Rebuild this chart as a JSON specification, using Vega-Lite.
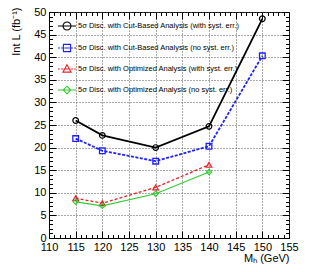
{
  "$schema": "https://vega.github.io/schema/vega-lite/v6.json",
  "autosize": {"type": "none"},
  "width": 240,
  "height": 226,
  "padding": {"left": 49, "top": 12, "right": 33, "bottom": 34},
  "background": "white",
  "config": {
    "view": {"stroke": "black", "strokeWidth": 1},
    "font": "Liberation Sans",
    "axis": {
      "labelFont": "Liberation Sans",
      "titleFont": "Liberation Sans",
      "labelColor": "black",
      "titleColor": "black",
      "domainColor": "black",
      "tickColor": "black",
      "titleFontWeight": "normal",
      "labelFontSize": 11,
      "titleFontSize": 11
    }
  },
  "data": {
    "values": [
      {"series": "A", "mh": 115, "lumi": 26.0},
      {"series": "A", "mh": 120, "lumi": 22.7},
      {"series": "A", "mh": 130, "lumi": 20.0},
      {"series": "A", "mh": 140, "lumi": 24.7},
      {"series": "A", "mh": 150, "lumi": 48.5},
      {"series": "B", "mh": 115, "lumi": 22.0},
      {"series": "B", "mh": 120, "lumi": 19.3},
      {"series": "B", "mh": 130, "lumi": 17.0},
      {"series": "B", "mh": 140, "lumi": 20.3},
      {"series": "B", "mh": 150, "lumi": 40.3},
      {"series": "C", "mh": 115, "lumi": 8.8},
      {"series": "C", "mh": 120, "lumi": 7.7},
      {"series": "C", "mh": 130, "lumi": 11.2},
      {"series": "C", "mh": 140, "lumi": 16.2},
      {"series": "D", "mh": 115, "lumi": 8.0},
      {"series": "D", "mh": 120, "lumi": 7.1},
      {"series": "D", "mh": 130, "lumi": 9.8},
      {"series": "D", "mh": 140, "lumi": 14.6}
    ]
  },
  "resolve": {"axis": {"x": "independent", "y": "independent"}},
  "layer": [
    {
      "transform": [{"filter": "datum.series === 'A'"}],
      "mark": {"type": "line", "color": "#000000", "strokeWidth": 1.8},
      "encoding": {
        "x": {
          "field": "mh", "type": "quantitative",
          "scale": {"domain": [110, 155], "nice": false, "zero": false},
          "axis": {
            "orient": "bottom",
            "title": "Mₕ (GeV)",
            "titleAnchor": "end",
            "titleAlign": "right",
            "titlePadding": 0,
            "values": [110,115,120,125,130,135,140,145,150,155],
            "tickSize": -7,
            "labelPadding": 10,
            "grid": true,
            "gridColor": "#555",
            "gridDash": [1, 2],
            "labelFlush": false,
            "labelOverlap": false
          }
        },
        "y": {
          "field": "lumi", "type": "quantitative",
          "scale": {"domain": [0, 50], "nice": false},
          "axis": {
            "orient": "left",
            "title": "Int L (fb⁻¹)",
            "titleAnchor": "end",
            "titleAlign": "right",
            "titleX": -28,
            "titleY": -5,
            "values": [0,5,10,15,20,25,30,35,40,45,50],
            "tickSize": -7,
            "labelPadding": 10,
            "grid": true,
            "gridColor": "#555",
            "gridDash": [1, 2],
            "labelFlush": false,
            "labelOverlap": false
          }
        }
      }
    },
    {
      "transform": [{"filter": "datum.series === 'B'"}],
      "mark": {"type": "line", "color": "#1f1fff", "strokeWidth": 1.8, "strokeDash": [3, 1.5]},
      "encoding": {
        "x": {
          "field": "mh", "type": "quantitative",
          "axis": {
            "orient": "bottom", "title": null, "labels": false, "domain": false, "grid": false,
            "values": [111,112,113,114,116,117,118,119,121,122,123,124,126,127,128,129,131,132,133,134,136,137,138,139,141,142,143,144,146,147,148,149,151,152,153,154],
            "tickSize": -3.5
          }
        },
        "y": {
          "field": "lumi", "type": "quantitative",
          "axis": {
            "orient": "left", "title": null, "labels": false, "domain": false, "grid": false,
            "values": [1,2,3,4,6,7,8,9,11,12,13,14,16,17,18,19,21,22,23,24,26,27,28,29,31,32,33,34,36,37,38,39,41,42,43,44,46,47,48,49],
            "tickSize": -3.5
          }
        }
      }
    },
    {
      "transform": [{"filter": "datum.series === 'C'"}],
      "mark": {"type": "line", "color": "#e8202a", "strokeWidth": 1.3, "strokeDash": [3, 2]},
      "encoding": {
        "x": {
          "field": "mh", "type": "quantitative",
          "axis": {
            "orient": "top", "title": null, "labels": false, "domain": false, "grid": false,
            "values": [110,115,120,125,130,135,140,145,150,155],
            "tickSize": -7
          }
        },
        "y": {
          "field": "lumi", "type": "quantitative",
          "axis": {
            "orient": "right", "title": null, "labels": false, "domain": false, "grid": false,
            "values": [0,5,10,15,20,25,30,35,40,45,50],
            "tickSize": -7
          }
        }
      }
    },
    {
      "transform": [{"filter": "datum.series === 'D'"}],
      "mark": {"type": "line", "color": "#33cc33", "strokeWidth": 1.1},
      "encoding": {
        "x": {
          "field": "mh", "type": "quantitative",
          "axis": {
            "orient": "top", "title": null, "labels": false, "domain": false, "grid": false,
            "values": [111,112,113,114,116,117,118,119,121,122,123,124,126,127,128,129,131,132,133,134,136,137,138,139,141,142,143,144,146,147,148,149,151,152,153,154],
            "tickSize": -3.5
          }
        },
        "y": {
          "field": "lumi", "type": "quantitative",
          "axis": {
            "orient": "right", "title": null, "labels": false, "domain": false, "grid": false,
            "values": [1,2,3,4,6,7,8,9,11,12,13,14,16,17,18,19,21,22,23,24,26,27,28,29,31,32,33,34,36,37,38,39,41,42,43,44,46,47,48,49],
            "tickSize": -3.5
          }
        }
      }
    },
    {
      "transform": [{"filter": "datum.series === 'A'"}],
      "mark": {"type": "point", "shape": "circle", "filled": false, "size": 32, "strokeWidth": 1.2, "color": "#000000", "opacity": 1},
      "encoding": {
        "x": {"field": "mh", "type": "quantitative", "axis": null},
        "y": {"field": "lumi", "type": "quantitative", "axis": null}
      }
    },
    {
      "transform": [{"filter": "datum.series === 'B'"}],
      "mark": {"type": "point", "shape": "square", "filled": false, "size": 32, "strokeWidth": 1.3, "color": "#1f1fff", "opacity": 1},
      "encoding": {
        "x": {"field": "mh", "type": "quantitative", "axis": null},
        "y": {"field": "lumi", "type": "quantitative", "axis": null}
      }
    },
    {
      "transform": [{"filter": "datum.series === 'C'"}],
      "mark": {"type": "point", "shape": "triangle-up", "filled": false, "size": 32, "strokeWidth": 1.2, "color": "#e8202a", "opacity": 1},
      "encoding": {
        "x": {"field": "mh", "type": "quantitative", "axis": null},
        "y": {"field": "lumi", "type": "quantitative", "axis": null}
      }
    },
    {
      "transform": [{"filter": "datum.series === 'D'"}],
      "mark": {"type": "point", "shape": "diamond", "filled": false, "size": 28, "strokeWidth": 1.1, "color": "#33cc33", "opacity": 1},
      "encoding": {
        "x": {"field": "mh", "type": "quantitative", "axis": null},
        "y": {"field": "lumi", "type": "quantitative", "axis": null}
      }
    },
    {
      "transform": [{"filter": "datum.mh < 0"}],
      "mark": {"type": "point", "filled": false, "strokeWidth": 1.1, "opacity": 1},
      "encoding": {
        "x": {"field": "mh", "type": "quantitative", "axis": null},
        "y": {"field": "lumi", "type": "quantitative", "axis": null},
        "color": {
          "field": "series", "type": "nominal",
          "scale": {"domain": ["A", "B", "C", "D"], "range": ["#000000", "#1f1fff", "#e8202a", "#33cc33"]},
          "legend": {
            "orient": "none",
            "legendX": 8,
            "legendY": 4,
            "title": null,
            "symbolSize": 324,
            "symbolStrokeWidth": 1.1,
            "labelFont": "Liberation Sans",
            "labelFontSize": 7.5,
            "labelColor": "black",
            "labelOffset": 1,
            "rowPadding": 5,
            "padding": 0,
            "labelLimit": 300,
            "labelExpr": "datum.value === 'A' ? '5σ Disc. with Cut-Based Analysis (with syst. err.)' : datum.value === 'B' ? '5σ Disc. with Cut-Based Analysis (no syst. err.)' : datum.value === 'C' ? '5σ Disc. with Optimized Analysis (with syst. err.)' : '5σ Disc. with Optimized Analysis (no syst. err.)'"
          }
        },
        "shape": {
          "field": "series", "type": "nominal",
          "scale": {"domain": ["A", "B", "C", "D"], "range": [
            "M-1,0L1,0M0.44,0A0.44,0.44,0,1,1,-0.44,0A0.44,0.44,0,1,1,0.44,0",
            "M-1,0L-0.8,0M-0.65,0L-0.4,0M-0.3,0L0.3,0M0.4,0L0.65,0M0.8,0L1,0M-0.4,-0.4L0.4,-0.4L0.4,0.4L-0.4,0.4Z",
            "M-1,0L-0.8,0M-0.65,0L-0.4,0M-0.25,0L0.25,0M0.4,0L0.65,0M0.8,0L1,0M0,-0.48L0.45,0.35L-0.45,0.35Z",
            "M-1,0L1,0M0,-0.42L0.42,0L0,0.42L-0.42,0Z"
          ]}
        }
      }
    }
  ]
}
